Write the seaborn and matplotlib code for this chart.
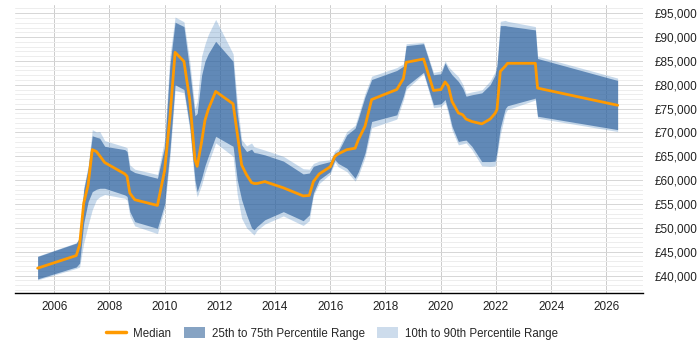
import numpy as np
import pandas as pd
import matplotlib
matplotlib.use('Agg')
import matplotlib.pyplot as plt
import matplotlib.ticker as mticker
from matplotlib.lines import Line2D
from matplotlib.patches import Patch
import seaborn as sns

# Données (année décimale, salaire en £)
years = [2005.40, 2006.80, 2006.92, 2007.07, 2007.23, 2007.38, 2007.53, 2007.65, 2007.83,
         2008.56, 2008.64, 2008.74, 2008.92, 2009.74, 2010.00, 2010.19, 2010.38, 2010.70,
         2010.91, 2011.10, 2011.18, 2011.34, 2011.46, 2011.58, 2011.85, 2012.48, 2012.63,
         2012.79, 2012.97, 2013.15, 2013.24, 2013.35, 2013.63, 2014.30, 2015.02, 2015.24,
         2015.39, 2015.60, 2016.00, 2016.17, 2016.29, 2016.60, 2016.90, 2017.02, 2017.26,
         2017.50, 2018.41, 2018.65, 2018.75, 2019.38, 2019.74, 2020.01, 2020.16, 2020.28,
         2020.41, 2020.64, 2020.80, 2020.92, 2021.13, 2021.49, 2021.79, 2021.97, 2022.04,
         2022.16, 2022.34, 2022.42, 2023.43, 2023.51, 2026.41]

median = [41550, 44200, 46400, 55200, 59000, 66400, 66000, 65100, 63700,
          61300, 60800, 57300, 55900, 54700, 62000, 73000, 86800, 84900,
          76900, 64300, 62900, 68000, 72500, 74800, 78600, 76000, 69900,
          63200, 61100, 59500, 59300, 59300, 59700, 58400, 56700, 56800,
          59700, 61300, 62800, 65000, 65500, 66400, 66700, 68500, 71300,
          76900, 79000, 81300, 84700, 85400, 78800, 79000, 80600, 79700,
          76500, 74100, 73700, 72800, 72300, 71800, 72800, 74000, 74800,
          82800, 83900, 84500, 84500, 79300, 75700]

p25 = [39300, 41800, 42600, 51000, 55500, 57600, 58100, 58300, 58300,
       56900, 56600, 53400, 51300, 49900, 55000, 66000, 80000, 79000,
       71300, 60000, 57600, 60400, 63000, 65000, 69200, 67100, 60100,
       55900, 52700, 50000, 49600, 50300, 51700, 53400, 51500, 52700,
       57300, 60100, 61800, 64300, 63500, 62500, 60400, 61800, 65700,
       72300, 73700, 77600, 79700, 82600, 75800, 76000, 76900, 74500,
       71300, 68100, 68300, 68400, 67100, 63900, 63900, 64000, 66000,
       71000, 75000, 75600, 77200, 73400, 70600]

p75 = [44000, 46800, 47900, 58000, 62500, 69300, 69000, 68800, 67100,
       66400, 66000, 62200, 61600, 60400, 67000, 84000, 93100, 92200,
       83000, 73500, 74000, 82000, 84900, 86500, 89100, 84900, 74100,
       67400, 66000, 66500, 65800, 65700, 65300, 64000, 61300, 61500,
       62900, 63300, 63900, 65700, 66000, 69500, 70900, 73000, 77500,
       81100, 83000, 83900, 88200, 88600, 82100, 82300, 84600, 83200,
       82100, 80700, 79300, 77600, 77900, 78300, 80000, 82000, 84000,
       92400, 92400, 92300, 91500, 85500, 80900]

p10 = [39100, 41500, 41800, 46800, 50600, 53800, 55900, 56500, 57000,
       56200, 55800, 52500, 50400, 48800, 54000, 64500, 78800, 78300,
       70500, 58500, 56500, 59000, 61500, 63500, 67800, 65000, 57000,
       52000, 50000, 49000, 48500, 49500, 50800, 52500, 50500, 51500,
       56800, 59300, 61300, 63800, 62800, 61800, 59800, 61000, 64800,
       71000, 72800, 76800, 79000, 82300, 75200, 75400, 76300, 73800,
       70500, 67400, 67600, 67800, 66400, 63000, 62900, 63000, 65000,
       69500, 74000, 74800, 76800, 73000, 70200]

p90 = [44100, 46900, 48000, 58500, 63000, 70600, 70100, 70200, 68300,
       67000, 66800, 63200, 62300, 61200, 68500, 86000, 94200, 93200,
       85000, 75000, 76500, 86000, 88500, 90500, 93700, 86500, 76500,
       68500, 67200, 67800, 67000, 66800, 66300, 65000, 62400, 62300,
       63500, 64000, 64300, 66200, 66600, 70200, 71500, 73700, 78200,
       81800, 83600, 84400, 88600, 88900, 82600, 82900, 85000, 83800,
       83000, 81700, 80100, 78200, 78500, 78900, 80800, 82700, 84600,
       93300, 93500, 93300, 92200, 86000, 81400]

df = pd.DataFrame({'Année': years, 'Médiane': median, 'P10': p10, 'P25': p25,
                   'P75': p75, 'P90': p90})

sns.set_style('white')
plt.rcParams['font.family'] = ['Liberation Sans', 'DejaVu Sans']

fig, ax = plt.subplots(figsize=(7, 3.5), dpi=100)
fig.subplots_adjust(left=0.021, right=0.919, bottom=0.164, top=0.986)

light = '#4884c0'
dark = '#2c609c'
orange = '#ff9a00'

ax.fill_between(df['Année'], df['P10'], df['P90'], color=light, alpha=0.3, linewidth=0, zorder=2)
ax.fill_between(df['Année'], df['P25'], df['P75'], color=dark, alpha=0.66, linewidth=0, zorder=3)
sns.lineplot(data=df, x='Année', y='Médiane', color=orange, linewidth=2, ax=ax, zorder=4)

ax.set_xlim(2004.57, 2027.34)
ax.set_ylim(36430, 96740)
ax.xaxis.set_major_locator(mticker.MultipleLocator(2))
ax.yaxis.set_major_locator(mticker.MultipleLocator(5000))
ax.yaxis.set_minor_locator(mticker.MultipleLocator(1000))
ax.yaxis.set_major_formatter(mticker.FuncFormatter(lambda v, p: '£{:,.0f}'.format(v)))
ax.xaxis.set_major_formatter(mticker.FuncFormatter(lambda v, p: '{:.0f}'.format(v)))
ax.yaxis.tick_right()

ax.grid(True, axis='x', which='major', color='#cccccc', linewidth=0.7, zorder=0)
ax.grid(True, axis='y', which='major', color='#d6d6d6', linewidth=0.7, zorder=0)
ax.grid(True, axis='y', which='minor', color='#ededed', linewidth=0.7, zorder=0)
ax.set_axisbelow(True)

for s in ['top', 'left', 'right']:
    ax.spines[s].set_visible(False)
ax.spines['bottom'].set_color('black')
ax.spines['bottom'].set_linewidth(1)

ax.tick_params(axis='y', which='both', length=0, labelsize=8.5, pad=8, colors='#222222')
ax.tick_params(axis='x', which='major', length=3, labelsize=8.5, pad=3, colors='#222222', color='black')
ax.set_xlabel('')
ax.set_ylabel('')

handles = [Line2D([0], [0], color=orange, linewidth=2.5),
           Patch(facecolor='#86a3c3', edgecolor='none'),
           Patch(facecolor='#cddcec', edgecolor='none')]
labels = ['Median', '25th to 75th Percentile Range', '10th to 90th Percentile Range']
fig.legend(handles, labels, loc='center', bbox_to_anchor=(0.474, 0.047), ncol=3, frameon=False,
           fontsize=8.3, handlelength=1.8, handleheight=1.1, columnspacing=1.1, handletextpad=0.6)

plt.savefig('out.png', dpi=100)
